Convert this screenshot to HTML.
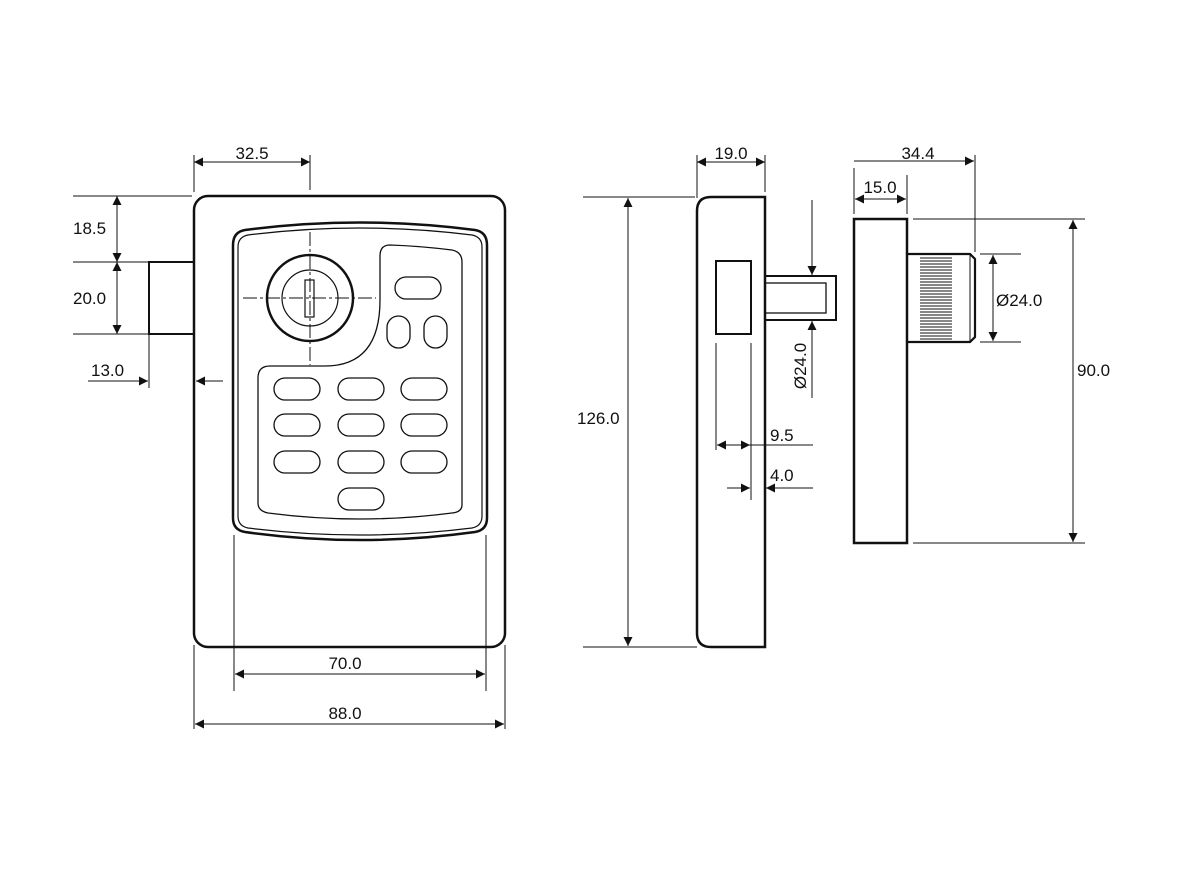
<!DOCTYPE html>
<html><head><meta charset="utf-8"><style>
html,body{margin:0;padding:0;background:#fff;}
svg{display:block;}
text{font-family:"Liberation Sans",Arial,sans-serif;font-size:17px;fill:#111;}
</style></head><body>
<svg width="1200" height="880" viewBox="0 0 1200 880" xmlns="http://www.w3.org/2000/svg">
<defs>
<marker id="a" viewBox="0 0 10 10" refX="10" refY="5" markerWidth="15" markerHeight="9" markerUnits="userSpaceOnUse" orient="auto-start-reverse"><path d="M0,0L10,5L0,10z" fill="#111"/></marker>
</defs>
<g fill="none" stroke="#111">
<rect x="194" y="196" width="311" height="451" rx="14" stroke-width="2.5"/>
<rect x="149" y="262" width="45" height="72" stroke-width="2"/>
<path d="M245,230 Q360,215 475,230 Q487,232 487,245 L487,518 Q487,530 475,532 Q360,548 245,532 Q233,530 233,518 L233,245 Q233,232 245,230Z" stroke-width="2.5"/>
<path d="M248,235 Q360,221 472,235 Q482,237 482,247 L482,516 Q482,526 472,528 Q360,542 248,528 Q238,526 238,516 L238,247 Q238,237 248,235Z" stroke-width="1.2"/>
<path d="M390,245 Q420,246 452,250 Q462,252 462,262 L462,505 Q462,512 452,513 Q360,525 268,513 Q258,511 258,503 L258,378 Q258,366 270,366 L325,366 Q380,366 380,300 L380,256 Q380,245 390,245Z" stroke-width="1.3"/>
<circle cx="310" cy="298" r="43" stroke-width="2.5"/>
<circle cx="310" cy="298" r="28" stroke-width="1.2"/>
<rect x="305" y="280" width="9" height="37" stroke-width="1.2"/>
<line x1="310" y1="232" x2="310" y2="365" stroke-width="1" stroke-dasharray="14,3,3,3"/>
<line x1="243" y1="298" x2="376" y2="298" stroke-width="1" stroke-dasharray="14,3,3,3"/>
<g stroke-width="1.3">
<rect x="395" y="277" width="46" height="22" rx="11"/>
<rect x="387" y="316" width="23" height="32" rx="11.5"/>
<rect x="424" y="316" width="23" height="32" rx="11.5"/>
<rect x="274" y="378" width="46" height="22" rx="11"/>
<rect x="338" y="378" width="46" height="22" rx="11"/>
<rect x="401" y="378" width="46" height="22" rx="11"/>
<rect x="274" y="414" width="46" height="22" rx="11"/>
<rect x="338" y="414" width="46" height="22" rx="11"/>
<rect x="401" y="414" width="46" height="22" rx="11"/>
<rect x="274" y="451" width="46" height="22" rx="11"/>
<rect x="338" y="451" width="46" height="22" rx="11"/>
<rect x="401" y="451" width="46" height="22" rx="11"/>
<rect x="338" y="488" width="46" height="22" rx="11"/>
</g>
<g stroke-width="1">
<line x1="194" y1="155" x2="194" y2="192"/>
<line x1="310" y1="155" x2="310" y2="190"/>
<line x1="194" y1="162" x2="310" y2="162" marker-start="url(#a)" marker-end="url(#a)"/>
<line x1="73" y1="196" x2="192" y2="196"/>
<line x1="73" y1="262" x2="149" y2="262"/>
<line x1="73" y1="334" x2="149" y2="334"/>
<line x1="117" y1="196" x2="117" y2="262" marker-start="url(#a)" marker-end="url(#a)"/>
<line x1="117" y1="262" x2="117" y2="334" marker-start="url(#a)" marker-end="url(#a)"/>
<line x1="149" y1="334" x2="149" y2="388"/>
<line x1="88" y1="381" x2="148" y2="381" marker-end="url(#a)"/>
<line x1="223" y1="381" x2="196" y2="381" marker-end="url(#a)"/>
<line x1="234" y1="535" x2="234" y2="691"/>
<line x1="486" y1="535" x2="486" y2="691"/>
<line x1="235" y1="674" x2="485" y2="674" marker-start="url(#a)" marker-end="url(#a)"/>
<line x1="194" y1="645" x2="194" y2="729"/>
<line x1="505" y1="645" x2="505" y2="729"/>
<line x1="195" y1="724" x2="504" y2="724" marker-start="url(#a)" marker-end="url(#a)"/>
</g>
<path d="M711,197 L765,197 L765,647 L711,647 Q697,647 697,633 L697,211 Q697,197 711,197Z" stroke-width="2.5"/>
<rect x="716" y="261" width="35" height="73" stroke-width="2"/>
<rect x="765" y="276" width="71" height="44" stroke-width="2"/>
<rect x="765" y="283" width="61" height="30" stroke-width="1.3"/>
<g stroke-width="1">
<line x1="812" y1="200" x2="812" y2="275" marker-end="url(#a)"/>
<line x1="812" y1="398" x2="812" y2="321" marker-end="url(#a)"/>
<line x1="716" y1="343" x2="716" y2="450"/>
<line x1="751" y1="343" x2="751" y2="500"/>
<line x1="717" y1="445" x2="750" y2="445" marker-start="url(#a)" marker-end="url(#a)"/>
<line x1="750" y1="445" x2="813" y2="445"/>
<line x1="727" y1="488" x2="750" y2="488" marker-end="url(#a)"/>
<line x1="813" y1="488" x2="766" y2="488" marker-end="url(#a)"/>
<line x1="583" y1="197" x2="695" y2="197"/>
<line x1="583" y1="647" x2="697" y2="647"/>
<line x1="628" y1="198" x2="628" y2="646" marker-start="url(#a)" marker-end="url(#a)"/>
<line x1="697" y1="155" x2="697" y2="198"/>
<line x1="765" y1="155" x2="765" y2="192"/>
<line x1="697" y1="162" x2="765" y2="162" marker-start="url(#a)" marker-end="url(#a)"/>
</g>
<rect x="854" y="219" width="53" height="324" stroke-width="2.5"/>
<path d="M907,254 L970,254 L975,259 L975,337 L970,342 L907,342" stroke-width="2.2"/>
<line x1="970" y1="254" x2="970" y2="342" stroke-width="1"/>
<g stroke-width="0.9">
<path d="M920,258H952M920,261H952M920,264H952M920,267H952M920,270H952M920,273H952M920,276H952M920,279H952M920,282H952M920,285H952M920,288H952M920,291H952M920,294H952M920,297H952M920,300H952M920,303H952M920,306H952M920,309H952M920,312H952M920,315H952M920,318H952M920,321H952M920,324H952M920,327H952M920,330H952M920,333H952M920,336H952M920,339H952"/>
</g>
<g stroke-width="1">
<line x1="854" y1="168" x2="854" y2="214"/>
<line x1="907" y1="175" x2="907" y2="214"/>
<line x1="855" y1="199" x2="906" y2="199" marker-start="url(#a)" marker-end="url(#a)"/>
<line x1="975" y1="155" x2="975" y2="252"/>
<line x1="854" y1="161" x2="974" y2="161" marker-end="url(#a)"/>
<line x1="980" y1="254" x2="1021" y2="254"/>
<line x1="980" y1="342" x2="1021" y2="342"/>
<line x1="993" y1="255" x2="993" y2="341" marker-start="url(#a)" marker-end="url(#a)"/>
<line x1="913" y1="219" x2="1085" y2="219"/>
<line x1="913" y1="543" x2="1085" y2="543"/>
<line x1="1073" y1="220" x2="1073" y2="542" marker-start="url(#a)" marker-end="url(#a)"/>
</g>
</g>
<text x="252" y="159" text-anchor="middle">32.5</text>
<text x="73" y="234">18.5</text>
<text x="73" y="304">20.0</text>
<text x="91" y="376">13.0</text>
<text x="345" y="669" text-anchor="middle">70.0</text>
<text x="345" y="719" text-anchor="middle">88.0</text>
<text x="731" y="159" text-anchor="middle">19.0</text>
<text x="577" y="424">126.0</text>
<text x="770" y="441">9.5</text>
<text x="770" y="481">4.0</text>
<text transform="translate(806,366) rotate(-90)" text-anchor="middle">Ø24.0</text>
<text x="880" y="193" text-anchor="middle">15.0</text>
<text x="918" y="159" text-anchor="middle">34.4</text>
<text x="996" y="306">Ø24.0</text>
<text x="1077" y="376">90.0</text>
</svg>
</body></html>
